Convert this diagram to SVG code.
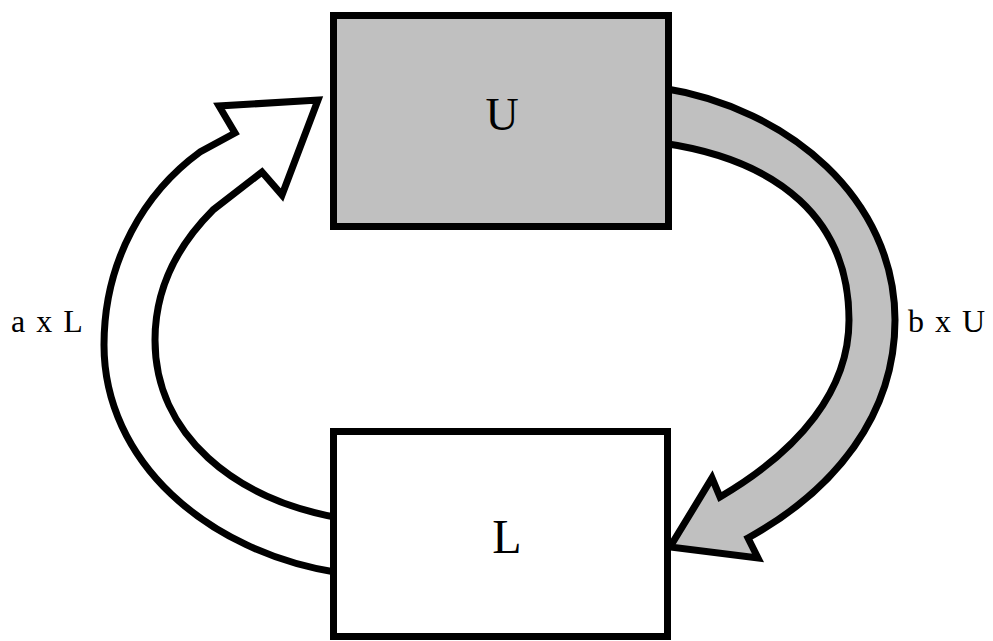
<svg xmlns="http://www.w3.org/2000/svg" width="993" height="641" viewBox="0 0 993 641">
<style>
.arrow{stroke:#000;stroke-width:7;stroke-linejoin:miter;stroke-miterlimit:10}
.box{stroke:#000;stroke-width:7}
.lbl{font-family:"Liberation Serif","Times New Roman",serif;fill:#000}
</style>
<rect width="993" height="641" fill="#fff"/>
<g id="connectors">
<path id="arrow-aL" class="arrow" fill="#fff" d="M 340,573 C 205,552 104,460 104,345 C 104,260 145,192 200,152 L 235,133 L 219,106 L 318,100 L 282,195 L 262,172 L 213,210 C 177,246 155,290 155,340 C 155,435 235,500 340,518 Z"/>
<path id="arrow-bU" class="arrow" fill="#c0c0c0" d="M 662,88 C 790,108 895,200 895,320 C 895,415 835,490 748,538 L 758,558 L 670,547 L 712,478 L 720,497 C 800,450 849,390 849,320 C 849,220 780,160 662,143 Z"/>
</g>
<g id="U">
<rect class="box" x="333.5" y="15.5" width="335" height="211" fill="#c0c0c0"/>
<text class="lbl" x="502" y="130" font-size="46" text-anchor="middle">U</text>
</g>
<g id="L">
<rect class="box" x="333.5" y="431.5" width="334" height="205" fill="#fff"/>
<text class="lbl" x="507" y="553" font-size="48" text-anchor="middle">L</text>
</g>
<g id="labels">
<text class="lbl" x="11" y="332" font-size="32" word-spacing="3">a x L</text>
<text class="lbl" x="908" y="332" font-size="32" word-spacing="3">b x U</text>
</g>
</svg>
